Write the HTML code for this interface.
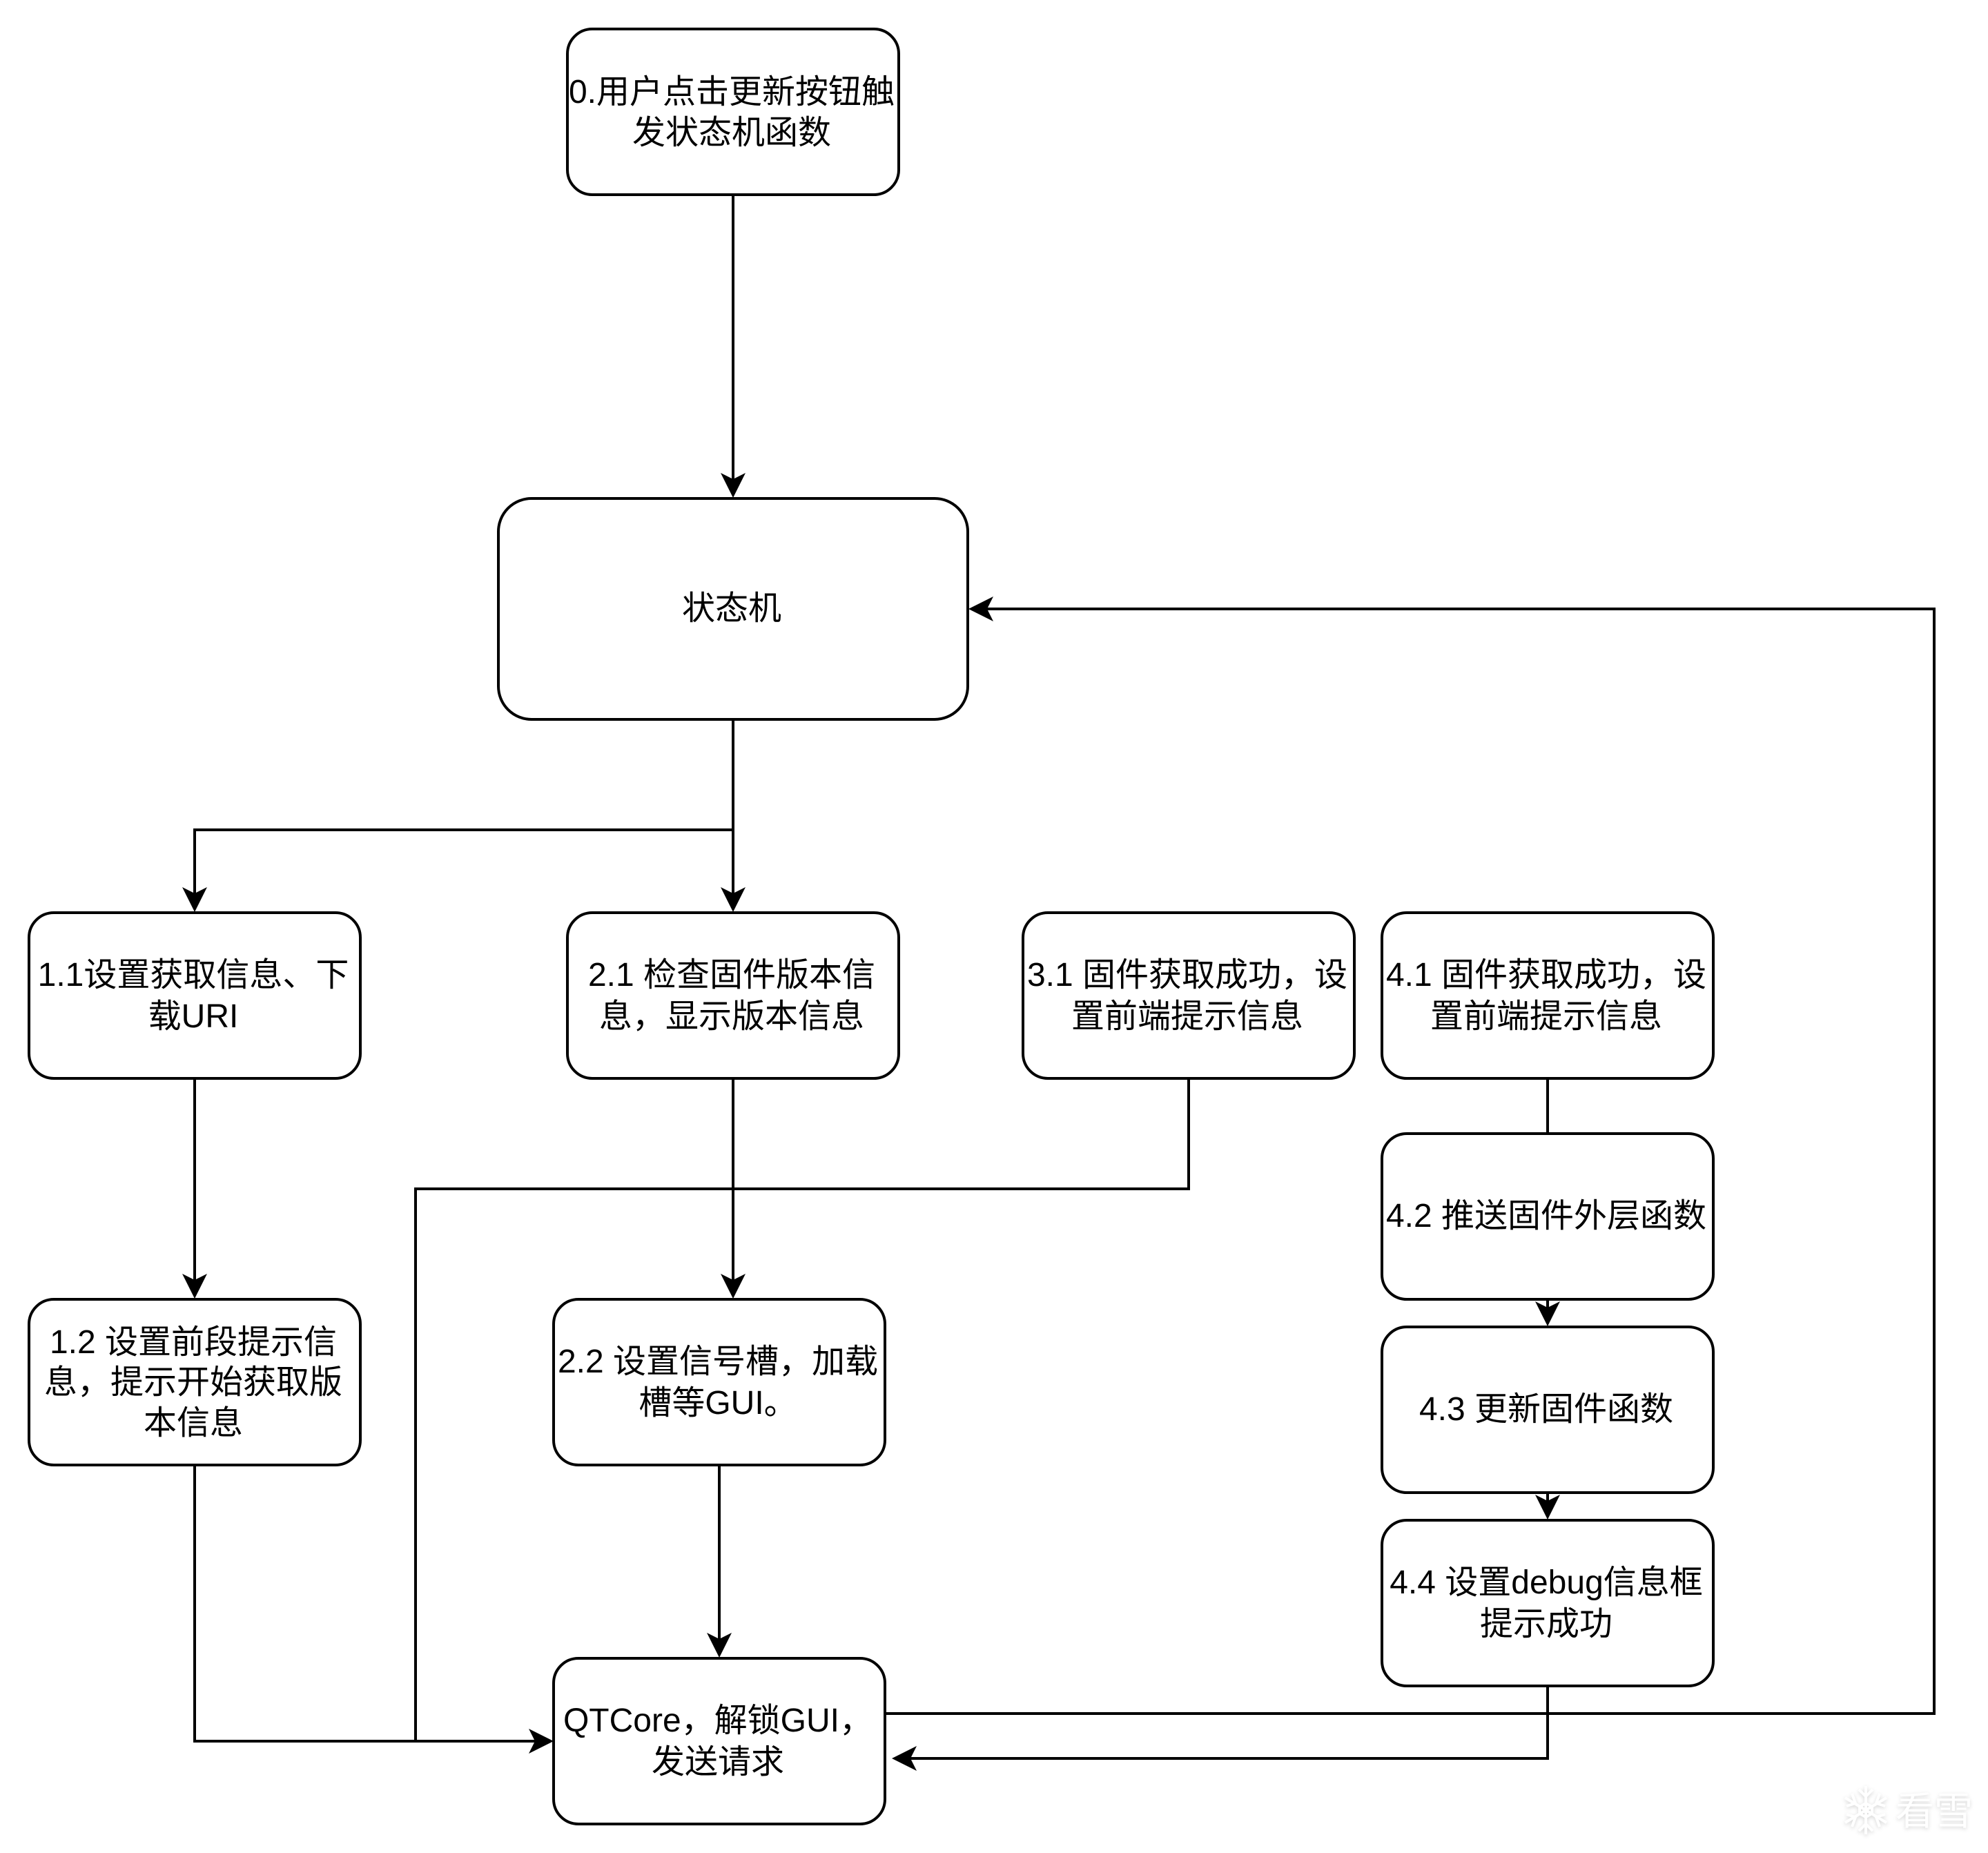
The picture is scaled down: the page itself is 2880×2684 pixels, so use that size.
<!DOCTYPE html>
<html lang="zh">
<head>
<meta charset="utf-8">
<title>状态机流程图</title>
<style>
html,body{margin:0;padding:0;background:#fff;}
svg{display:block;}
text{font-family:"Liberation Sans","Noto Sans CJK SC",sans-serif;font-size:48px;fill:#000;text-anchor:middle;}
.wm{font-size:56px;fill:#fff;text-anchor:start;filter:drop-shadow(0 2px 3px rgba(0,0,0,.16));}
</style>
</head>
<body>
<svg xmlns="http://www.w3.org/2000/svg" width="2880" height="2684" viewBox="0 0 2880 2684">
<defs>
  <polygon id="ad" points="0,0 -18,-36 0,-27 18,-36" fill="#000"/>
</defs>
<rect width="2880" height="2684" fill="#fff"/>

<!-- connectors -->
<g fill="none" stroke="#000" stroke-width="4">
  <path d="M1062 282V700"/>
  <path d="M1062 1042V1300"/>
  <path d="M1062 1202H282V1300"/>
  <path d="M282 1562V1860"/>
  <path d="M1062 1562V1860"/>
  <path d="M1722 1562V1722H602V2522"/>
  <path d="M282 2122V2522H780"/>
  <path d="M1042 2122V2380"/>
  <path d="M2242 1562V1642"/>
  <path d="M2242 1882V1900"/>
  <path d="M2242 2162V2180"/>
  <path d="M2242 2442V2547H1315"/>
  <path d="M1282 2482H2802V882H1425"/>
</g>

<!-- arrowheads -->
<use href="#ad" transform="translate(1062,721)"/>
<use href="#ad" transform="translate(1062,1321)"/>
<use href="#ad" transform="translate(282,1321)"/>
<use href="#ad" transform="translate(282,1881)"/>
<use href="#ad" transform="translate(1062,1881)"/>
<use href="#ad" transform="translate(1042,2401)"/>
<use href="#ad" transform="translate(2242,1921)"/>
<use href="#ad" transform="translate(2242,2201)"/>
<use href="#ad" transform="translate(802,2522) rotate(-90)"/>
<use href="#ad" transform="translate(1292,2547) rotate(90)"/>
<use href="#ad" transform="translate(1403,882) rotate(90)"/>

<!-- nodes -->
<g fill="#fff" stroke="#000" stroke-width="4">
  <rect x="822" y="42" width="480" height="240" rx="36" ry="36"/>
  <rect x="722" y="722" width="680" height="320" rx="48" ry="48"/>
  <rect x="42" y="1322" width="480" height="240" rx="36" ry="36"/>
  <rect x="822" y="1322" width="480" height="240" rx="36" ry="36"/>
  <rect x="1482" y="1322" width="480" height="240" rx="36" ry="36"/>
  <rect x="2002" y="1322" width="480" height="240" rx="36" ry="36"/>
  <rect x="2002" y="1642" width="480" height="240" rx="36" ry="36"/>
  <rect x="42" y="1882" width="480" height="240" rx="36" ry="36"/>
  <rect x="802" y="1882" width="480" height="240" rx="36" ry="36"/>
  <rect x="2002" y="1922" width="480" height="240" rx="36" ry="36"/>
  <rect x="2002" y="2202" width="480" height="240" rx="36" ry="36"/>
  <rect x="802" y="2402" width="480" height="240" rx="36" ry="36"/>
</g>

<!-- labels -->
<text x="1060" y="149">0.用户点击更新按钮触</text>
<text x="1060" y="208">发状态机函数</text>
<text x="1060" y="897">状态机</text>

<text x="280" y="1428">1.1设置获取信息、下</text>
<text x="280" y="1488">载URI</text>

<text x="1060" y="1428">2.1 检查固件版本信</text>
<text x="1060" y="1488">息，显示版本信息</text>

<text x="1720" y="1428">3.1 固件获取成功，设</text>
<text x="1720" y="1488">置前端提示信息</text>

<text x="2240" y="1428">4.1 固件获取成功，设</text>
<text x="2240" y="1488">置前端提示信息</text>

<text x="2240" y="1777">4.2 推送固件外层函数</text>

<text x="280" y="1960">1.2 设置前段提示信</text>
<text x="280" y="2018">息，提示开始获取版</text>
<text x="280" y="2077">本信息</text>

<text x="1040" y="1988">2.2 设置信号槽，加载</text>
<text x="1040" y="2048">槽等GUI。</text>

<text x="2240" y="2057">4.3 更新固件函数</text>

<text x="2240" y="2308">4.4 设置debug信息框</text>
<text x="2240" y="2368">提示成功</text>

<text x="1040" y="2508">QTCore，解锁GUI，</text>
<text x="1040" y="2568">发送请求</text>

<!-- watermark -->
<g fill="none" stroke="#fff" stroke-width="4" style="filter:drop-shadow(0 2px 3px rgba(0,0,0,.16))">
  <path d="M2703 2587V2657M2673 2604L2733 2640M2673 2640L2733 2604"/>
  <path d="M2693 2592L2703 2602L2713 2592M2693 2652L2703 2642L2713 2652"/>
  <path d="M2675 2616L2688 2612L2683 2598M2731 2628L2718 2632L2723 2646M2675 2628L2688 2632L2683 2646M2731 2616L2718 2612L2723 2598"/>
  <polygon points="2703,2612 2712,2617 2712,2627 2703,2632 2694,2627 2694,2617"/>
</g>
<text class="wm" x="2746" y="2643">看雪</text>
</svg>
</body>
</html>
